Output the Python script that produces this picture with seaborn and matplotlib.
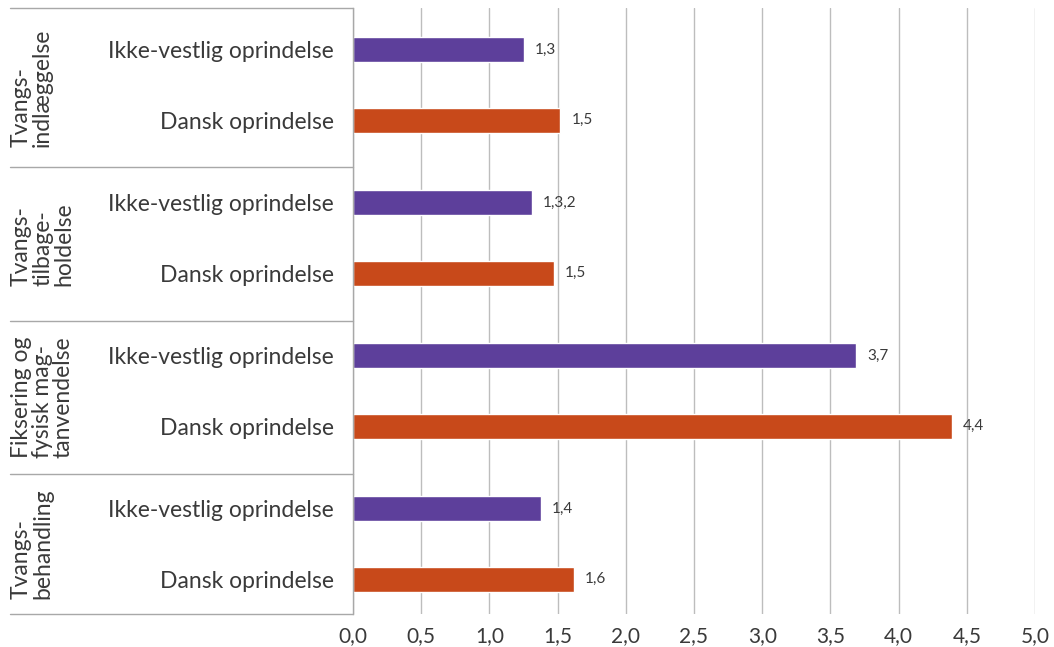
import matplotlib
matplotlib.use("Agg")
import matplotlib.pyplot as plt
import matplotlib.transforms as mtransforms
import pandas as pd
import seaborn as sns

# Data
groups = ["Tvangs-\nindlæggelse", "Tvangs-\ntilbage-\nholdelse",
          "Fiksering og\nfysisk mag-\ntanvendelse", "Tvangs-\nbehandling"]
origins = ["Ikke-vestlig oprindelse", "Dansk oprindelse"]
values_ikke_vestlig = [1.25, 1.31, 3.69, 1.38]
values_dansk = [1.52, 1.47, 4.39, 1.62]
labels_ikke_vestlig = ["1,3", "1,3,2", "3,7", "1,4"]
labels_dansk = ["1,5", "1,5", "4,4", "1,6"]
x_ticks = [0.0, 0.5, 1.0, 1.5, 2.0, 2.5, 3.0, 3.5, 4.0, 4.5, 5.0]
x_tick_labels = ["0,0", "0,5", "1,0", "1,5", "2,0", "2,5", "3,0", "3,5", "4,0", "4,5", "5,0"]

colors = {"Ikke-vestlig oprindelse": "#5D3F9B", "Dansk oprindelse": "#C8491A"}
text_color = "#3A3A3A"
line_color = "#A8A8A8"

# Long table: one row per bar, with vertical slot positions per group
rows = []
for g, grp in enumerate(groups):
    for k, (origin, vals, labs) in enumerate(zip(origins,
                                                  [values_ikke_vestlig, values_dansk],
                                                  [labels_ikke_vestlig, labels_dansk])):
        rows.append({"group": grp, "origin": origin, "value": vals[g],
                     "label": labs[g], "pos": g * 2.02 + 0.55 + k * 0.93})
df = pd.DataFrame(rows)

sns.set_theme(style="white")
plt.rcParams["font.family"] = ["Lato", "DejaVu Sans"]
plt.rcParams["text.color"] = text_color

W, H = 1054, 647
fig = plt.figure(figsize=(W / 100, H / 100), dpi=100)
ax_left, ax_right, ax_top, ax_bottom = 353, 1035, 8, 614
ax = fig.add_axes([ax_left / W, 1 - ax_bottom / H,
                   (ax_right - ax_left) / W, (ax_bottom - ax_top) / H])

sns.barplot(data=df, x="value", y="pos", hue="origin", palette=colors,
            orient="h", native_scale=True, dodge=False, width=0.355,
            saturation=1, legend=False, ax=ax, errorbar=None)

ax.set_xlim(0, 5)
ax.set_ylim(8, 0)
ax.set_xlabel("")
ax.set_ylabel("")

ax.set_xticks(x_ticks)
ax.set_xticklabels(x_tick_labels, fontsize=15, color=text_color)
ax.tick_params(axis="x", length=0, pad=9)
ax.set_yticks(df["pos"])
ax.set_yticklabels(df["origin"], fontsize=16.5, color=text_color)
ax.tick_params(axis="y", length=0, pad=13.5)

ax.xaxis.grid(True, color="#BDBDBD", linewidth=1)
ax.yaxis.grid(False)
ax.set_axisbelow(True)
for side in ["top", "right", "bottom"]:
    ax.spines[side].set_visible(False)
ax.spines["left"].set_color(line_color)
ax.spines["left"].set_linewidth(1)

# Value labels next to each bar
px_per_unit = (ax_right - ax_left) / 5
for _, r in df.iterrows():
    ax.text(r["value"] + 11 / px_per_unit, r["pos"], r["label"],
            ha="left", va="center", fontsize=11, color=text_color)

# Group separators and rotated group titles in the label area
trans = mtransforms.blended_transform_factory(ax.transAxes, ax.transData)
sep_x0 = (10 - ax_left) / (ax_right - ax_left)
separators = [0, 2.1, 4.13, 6.15, 8]
for y in separators:
    ax.plot([sep_x0, 0], [y, y], transform=trans, clip_on=False,
            color=line_color, linewidth=1)

title_x = (11 - ax_left) / (ax_right - ax_left)
for g, grp in enumerate(groups):
    yc = (separators[g] + separators[g + 1]) / 2
    ax.text(title_x, yc, grp, transform=trans, rotation=90,
            ha="left", va="center", multialignment="left",
            fontsize=16.5, linespacing=1.0, color=text_color)

fig.savefig("out.png", dpi=100)
